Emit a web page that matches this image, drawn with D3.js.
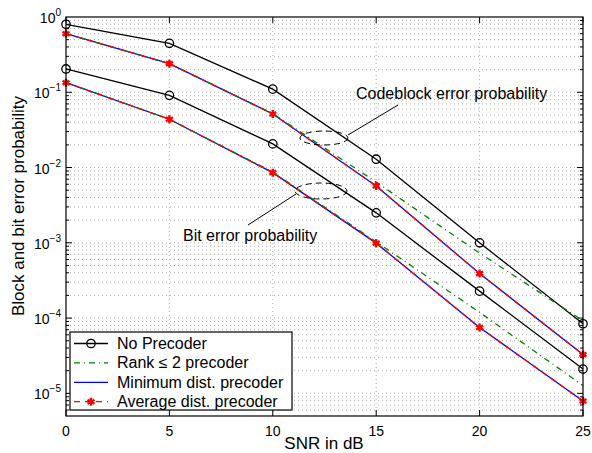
<!DOCTYPE html>
<html>
<head>
<meta charset="utf-8">
<script src="https://cdn.jsdelivr.net/npm/d3@7"></script>
<style>
  body { margin: 0; background: #fff; }
  svg { font-family: "Liberation Sans", Arial, sans-serif; }
</style>
</head>
<body>
<div class="chart"></div>
<script>
const width = 592
const height = 453

// SNR points (dB)
const snr = [0, 5, 10, 15, 20, 25]

// codeblock error probability
const noPrecBlock = [0.80, 0.447, 0.110, 0.0129, 1.00e-3, 8.4e-5]
const rankBlock   = [0.60, 0.240, 0.052, 0.0064, 7.3e-4, 9.2e-5]
const minBlock    = [0.60, 0.240, 0.0515, 0.0057, 3.9e-4, 3.27e-5]
const avgBlock    = [0.60, 0.240, 0.0515, 0.0057, 3.9e-4, 3.27e-5]

// bit error probability
const noPrecBit = [0.204, 0.091, 0.0206, 0.0025, 2.28e-4, 2.1e-5]
const rankBit   = [0.134, 0.0438, 0.0087, 1.03e-3, 1.19e-4, 1.27e-5]
const minBit    = [0.134, 0.0438, 0.00855, 9.9e-4, 7.5e-5, 7.9e-6]
const avgBit    = [0.134, 0.0438, 0.00855, 9.9e-4, 7.5e-5, 7.9e-6]

const xTicks = [0, 5, 10, 15, 20, 25]
const yExps = [0, -1, -2, -3, -4, -5]
const legendLabels = ["No Precoder", "Rank \u2264 2 precoder", "Minimum dist. precoder", "Average dist. precoder"]

const margin = {left: 66, top: 17, right: 9, bottom: 37}

const x = d3.scaleLinear()
  .domain([0, 25])
  .range([margin.left, width - margin.right])

const y = d3.scaleLog()
  .domain([5e-6, 1])
  .range([height - margin.bottom, margin.top])

const svg = d3.create("svg")
  .attr("width", width)
  .attr("height", height)

// grid
const minorVals = []
for (let e = -6; e < 0; e++) {
  for (let m = 1; m < 10; m++) {
    const v = m * Math.pow(10, e)
    if (v >= 5e-6 && v <= 1) minorVals.push(v)
  }
}
svg.append("g")
  .selectAll("line")
  .data(minorVals)
  .join("line")
  .attr("x1", x(0)).attr("x2", x(25))
  .attr("y1", d => y(d)).attr("y2", d => y(d))
  .attr("stroke", "#9a9a9a")
  .attr("stroke-width", 0.8)
  .attr("stroke-dasharray", "1,3")

svg.append("g")
  .selectAll("line")
  .data(xTicks.slice(1, -1))
  .join("line")
  .attr("x1", d => x(d)).attr("x2", d => x(d))
  .attr("y1", y(5e-6)).attr("y2", y(1))
  .attr("stroke", "#9a9a9a")
  .attr("stroke-width", 0.8)
  .attr("stroke-dasharray", "1,3")

// ticks on the box (inward)
const tk = svg.append("g").attr("stroke", "#000").attr("stroke-width", 1)
minorVals.forEach(v => {
  const major = Math.abs(Math.log10(v) - Math.round(Math.log10(v))) < 1e-9
  const len = major ? 6 : 3
  tk.append("line").attr("x1", x(0)).attr("x2", x(0) + len).attr("y1", y(v)).attr("y2", y(v))
  tk.append("line").attr("x1", x(25)).attr("x2", x(25) - len).attr("y1", y(v)).attr("y2", y(v))
})
xTicks.forEach(t => {
  tk.append("line").attr("x1", x(t)).attr("x2", x(t)).attr("y1", y(5e-6)).attr("y2", y(5e-6) - 6)
  tk.append("line").attr("x1", x(t)).attr("x2", x(t)).attr("y1", y(1)).attr("y2", y(1) + 6)
})

// tick labels
svg.append("g")
  .selectAll("text")
  .data(xTicks)
  .join("text")
  .attr("x", d => x(d))
  .attr("y", 436)
  .attr("text-anchor", "middle")
  .style("font-size", "14px")
  .text(d => d)

const yl = svg.append("g")
  .selectAll("text")
  .data(yExps)
  .join("text")
  .attr("x", 61)
  .attr("y", d => y(Math.pow(10, d)) + 6)
  .attr("text-anchor", "end")
  .style("font-size", "14px")
yl.append("tspan").text("10")
yl.append("tspan")
  .attr("dy", -7)
  .style("font-size", "10px")
  .text(d => d === 0 ? "0" : "\u2212" + (-d))

// axis titles
svg.append("text")
  .attr("x", 324)
  .attr("y", 449)
  .attr("text-anchor", "middle")
  .style("font-size", "17px")
  .text("SNR in dB")

svg.append("text")
  .attr("transform", "translate(24, 206) rotate(-90)")
  .attr("text-anchor", "middle")
  .style("font-size", "17px")
  .text("Block and bit error probability")

// curves
const line = d3.line()
  .x((d, i) => x(snr[i]))
  .y(d => y(d))

const series = [
  {data: noPrecBlock, color: "#000", dash: null, marker: "o"},
  {data: noPrecBit, color: "#000", dash: null, marker: "o"},
  {data: minBlock, color: "#0000ff", dash: null, marker: null},
  {data: minBit, color: "#0000ff", dash: null, marker: null},
  {data: rankBlock, color: "#008000", dash: "6,4,1,4", marker: null},
  {data: rankBit, color: "#008000", dash: "6,4,1,4", marker: null},
  {data: avgBlock, color: "#ff0000", dash: "6,5", marker: "*"},
  {data: avgBit, color: "#ff0000", dash: "6,5", marker: "*"}
]

const plot = svg.append("g")
const star = d3.symbol().type(d3.symbolAsterisk).size(45)

function drawMarker(g, kind, cx, cy, color) {
  if (kind === "o") {
    g.append("circle")
      .attr("cx", cx).attr("cy", cy).attr("r", 4.2)
      .attr("fill", "none").attr("stroke", color).attr("stroke-width", 1.3)
  } else if (kind === "*") {
    g.append("path")
      .attr("d", star())
      .attr("transform", `translate(${cx},${cy})`)
      .attr("fill", "none").attr("stroke", color).attr("stroke-width", 2.4)
  }
}

series.forEach(s => {
  plot.append("path")
    .attr("d", line(s.data))
    .attr("fill", "none")
    .attr("stroke", s.color)
    .attr("stroke-width", 1.3)
    .attr("stroke-dasharray", s.dash)
  if (s.marker) {
    s.data.forEach((v, i) => drawMarker(plot, s.marker, x(snr[i]), y(v), s.color))
  }
})

// box
svg.append("rect")
  .attr("x", x(0)).attr("y", y(1))
  .attr("width", x(25) - x(0)).attr("height", y(5e-6) - y(1))
  .attr("fill", "none").attr("stroke", "#000").attr("stroke-width", 1.2)

// annotations
const ann = svg.append("g")
ann.append("ellipse")
  .attr("cx", 324).attr("cy", 138).attr("rx", 24).attr("ry", 7)
  .attr("fill", "none").attr("stroke", "#000").attr("stroke-dasharray", "6,4")
ann.append("line")
  .attr("x1", 348).attr("y1", 135).attr("x2", 398).attr("y2", 105)
  .attr("stroke", "#000")
ann.append("text")
  .attr("x", 356).attr("y", 99)
  .style("font-size", "16px")
  .text("Codeblock error probability")

ann.append("ellipse")
  .attr("cx", 321).attr("cy", 191).attr("rx", 26).attr("ry", 8)
  .attr("fill", "none").attr("stroke", "#000").attr("stroke-dasharray", "6,4")
ann.append("line")
  .attr("x1", 296).attr("y1", 194).attr("x2", 248).attr("y2", 225)
  .attr("stroke", "#000")
ann.append("text")
  .attr("x", 183).attr("y", 241)
  .style("font-size", "16px")
  .text("Bit error probability")

// legend
const lg = svg.append("g")
lg.append("rect")
  .attr("x", 70).attr("y", 332).attr("width", 222).attr("height", 78)
  .attr("fill", "#fff").attr("stroke", "#000").attr("stroke-width", 1.2)

const legendStyle = [series[0], series[4], series[2], series[6]]
legendLabels.forEach((lab, i) => {
  const ly = 343.5 + i * 19.4
  const st = legendStyle[i]
  lg.append("line")
    .attr("x1", 74).attr("x2", 108).attr("y1", ly).attr("y2", ly)
    .attr("stroke", st.color).attr("stroke-width", 1.3)
    .attr("stroke-dasharray", st.dash)
  if (st.marker) drawMarker(lg, st.marker, 91, ly, st.color)
  lg.append("text")
    .attr("x", 117).attr("y", ly + 5.5)
    .style("font-size", "16px")
    .text(lab)
})

document.querySelector(".chart").append(svg.node())
</script>
</body>
</html>
